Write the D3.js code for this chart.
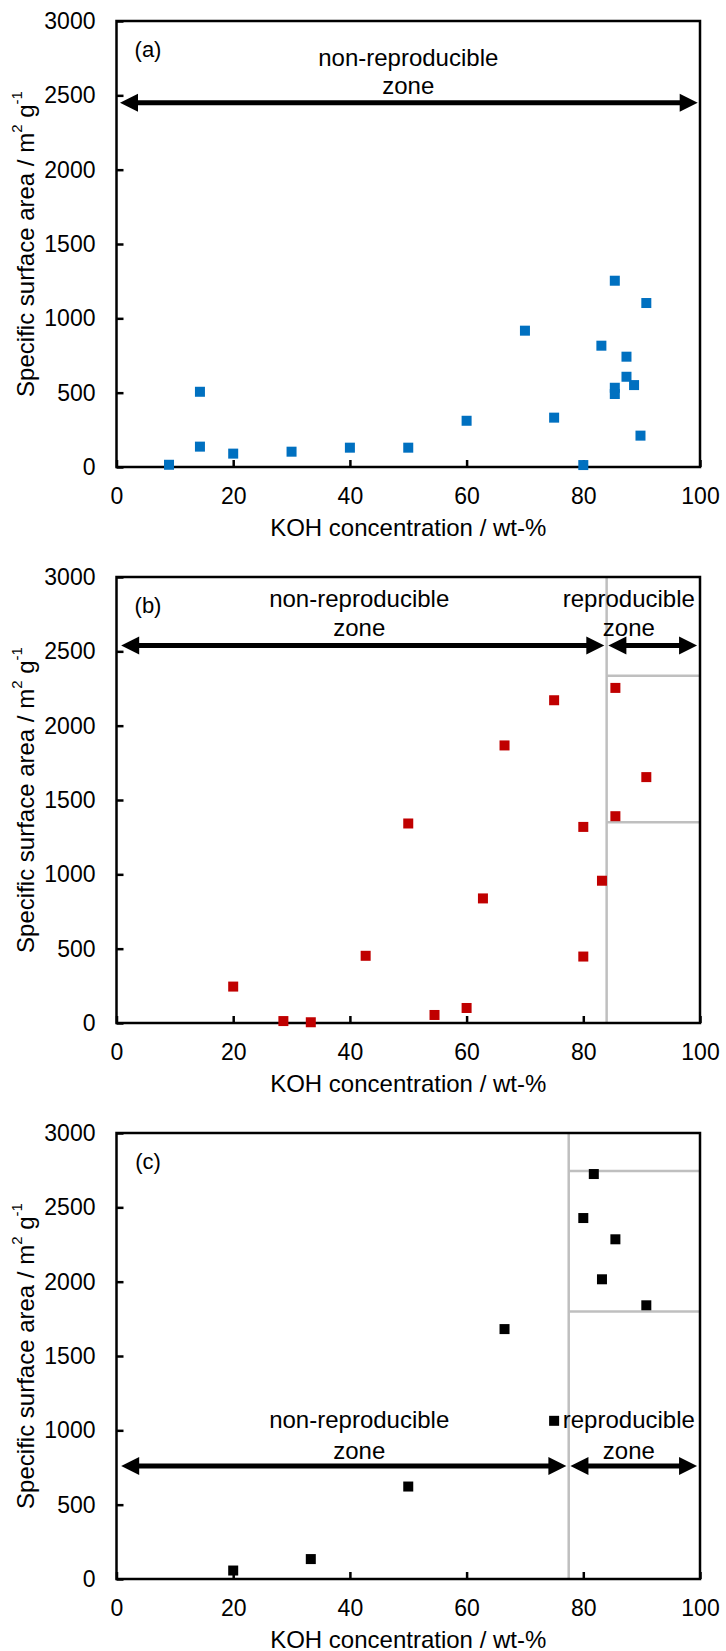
<!DOCTYPE html>
<html>
<head>
<meta charset="utf-8">
<script src="https://cdn.jsdelivr.net/npm/d3@7"></script>
<style>
body { margin: 0; background: #fff; }
text { font-family: "Liberation Sans", Arial, sans-serif; fill: #000; }
</style>
</head>
<body>
<svg class="chart"></svg>
<script>
var xTicks = [0, 20, 40, 60, 80, 100];
var yTicks = [0, 500, 1000, 1500, 2000, 2500, 3000];

// (a) all samples, blue
var kohA = [9, 14.3, 14.3, 20, 30, 40, 50, 60, 70, 75, 80, 83.1, 85.4, 87.4, 87.4, 85.4, 85.4, 88.7, 89.8, 90.8];
var ssaA = [15, 506, 137, 90, 103, 130, 130, 311, 917, 332, 13, 816, 1253, 742, 607, 533, 491, 551, 211, 1103];

// (b) red
var kohB = [20, 28.6, 33.3, 42.7, 50, 54.5, 60, 62.8, 66.5, 75, 80, 80, 83.2, 85.5, 85.5, 90.8];
var ssaB = [245, 13, 5, 452, 1342, 54, 101, 838, 1867, 2171, 1319, 447, 957, 2254, 1391, 1654];

// (c) black
var kohC = [20, 33.3, 50, 66.5, 75, 80, 81.8, 83.2, 85.5, 90.8];
var ssaC = [57, 134, 622, 1681, 1064, 2428, 2724, 2016, 2285, 1841];

// zone limits: [boundary KOH, upper SSA, lower SSA]
var zoneB = [84, 2335, 1350];
var zoneC = [77.5, 2745, 1800];

var width = 726;
var height = 1651;
var margin = {left: 116.5, right: 26};
var plotW = width - margin.left - margin.right;
var plotH = 446;

var svg = d3.select(".chart")
    .attr("width", width)
    .attr("height", height);

svg.append("rect").attr("width", width).attr("height", height).attr("fill", "#fff");

var panels = [
    {top: 21, label: "(a)", kohs: kohA, ssas: ssaA, color: "#0070C0", zone: null,
     arrowY: 2450, textX: 50, textY: [2756, 2563]},
    {top: 577, label: "(b)", kohs: kohB, ssas: ssaB, color: "#C00000", zone: zoneB,
     arrowY: 2540, textX: 41.6, textY: [2856, 2659], reproX: 87.8},
    {top: 1133, label: "(c)", kohs: kohC, ssas: ssaC, color: "#000000", zone: zoneC,
     arrowY: 760, textX: 41.6, textY: [1071, 866], reproX: 87.8}
];

var xScale = d3.scaleLinear().domain([0, 100]).range([0, plotW]);
var yScale = d3.scaleLinear().domain([0, 3000]).range([plotH, 0]);

function arrow(g, x1, x2, yv){
    var p1 = xScale(x1), p2 = xScale(x2), py = yScale(yv);
    g.append("line")
        .attr("x1", p1 + 10).attr("x2", p2 - 10)
        .attr("y1", py).attr("y2", py)
        .attr("stroke", "#000")
        .attr("stroke-width", 5);
    g.append("path")
        .attr("d", "M" + p1 + "," + py + "l18,-9l0,18z")
        .attr("fill", "#000");
    g.append("path")
        .attr("d", "M" + p2 + "," + py + "l-18,-9l0,18z")
        .attr("fill", "#000");
}

function zoneText(g, xv, yv, lines){
    g.append("text")
        .attr("x", xScale(xv))
        .attr("y", yScale(yv[0]))
        .attr("text-anchor", "middle")
        .attr("dominant-baseline", "central")
        .style("font-size", "24px")
        .text(lines[0]);
    g.append("text")
        .attr("x", xScale(xv))
        .attr("y", yScale(yv[1]))
        .attr("text-anchor", "middle")
        .attr("dominant-baseline", "central")
        .style("font-size", "24px")
        .text(lines[1]);
}

panels.forEach(function(p){
    var chart = svg.append("g")
        .attr("transform", "translate(" + margin.left + "," + p.top + ")");

    if(p.zone){
        var z = p.zone;
        chart.append("line")
            .attr("x1", xScale(z[0])).attr("x2", xScale(z[0]))
            .attr("y1", yScale(0)).attr("y2", yScale(3000))
            .attr("stroke", "#BFBFBF").attr("stroke-width", 2.5);
        [z[1], z[2]].forEach(function(v){
            chart.append("line")
                .attr("x1", xScale(z[0])).attr("x2", xScale(100))
                .attr("y1", yScale(v)).attr("y2", yScale(v))
                .attr("stroke", "#BFBFBF").attr("stroke-width", 2.5);
        });
    }

    var xAxis = d3.axisBottom(xScale).tickValues(xTicks).tickFormat(d3.format("d")).tickSize(-7).tickPadding(21);
    var yAxis = d3.axisLeft(yScale).tickValues(yTicks).tickFormat(d3.format("d")).tickSize(-7).tickPadding(21);

    chart.append("g")
        .attr("class", "xAxis")
        .attr("transform", "translate(0," + plotH + ")")
        .call(xAxis);
    chart.append("g")
        .attr("class", "y axis")
        .call(yAxis);

    chart.selectAll(".domain").remove();
    chart.selectAll(".tick line").attr("stroke", "#000").attr("stroke-width", 2.5);
    chart.selectAll(".tick text")
        .style("font-size", "23px")
        .style("font-family", "'Liberation Sans', Arial, sans-serif");

    chart.append("rect")
        .attr("width", plotW)
        .attr("height", plotH)
        .attr("fill", "none")
        .attr("stroke", "#000")
        .attr("stroke-width", 2.5);

    chart.selectAll(".pt")
        .data(p.kohs)
        .enter()
        .append("rect")
        .attr("class", "pt")
        .attr("x", function(d){ return xScale(d) - 5; })
        .attr("y", function(d, i){ return yScale(p.ssas[i]) - 5; })
        .attr("width", 10)
        .attr("height", 10)
        .attr("fill", p.color);

    chart.append("text")
        .attr("x", xScale(5.4))
        .attr("y", yScale(2805))
        .attr("text-anchor", "middle")
        .attr("dominant-baseline", "central")
        .style("font-size", "22px")
        .text(p.label);

    zoneText(chart, p.textX, p.textY, ["non-reproducible", "zone"]);

    if(p.zone){
        zoneText(chart, p.reproX, p.textY, ["reproducible", "zone"]);
        arrow(chart, 0.8, p.zone[0] - 0.4, p.arrowY);
        arrow(chart, p.zone[0] + 0.3, 99.5, p.arrowY);
    } else {
        arrow(chart, 0.6, 99.6, p.arrowY);
    }

    chart.append("text")
        .attr("x", plotW / 2)
        .attr("y", plotH + 60)
        .attr("text-anchor", "middle")
        .attr("dominant-baseline", "central")
        .style("font-size", "24px")
        .text("KOH concentration / wt-%");

    var yt = chart.append("text")
        .attr("transform", "translate(" + (25 - margin.left) + "," + (plotH / 2) + ") rotate(-90)")
        .attr("text-anchor", "middle")
        .attr("dominant-baseline", "central")
        .style("font-size", "24px");
    yt.append("tspan").text("Specific surface area / m");
    yt.append("tspan").attr("baseline-shift", "super").style("font-size", "15px").text("2");
    yt.append("tspan").text(" g");
    yt.append("tspan").attr("baseline-shift", "super").style("font-size", "15px").text("-1");
});
</script>
</body>
</html>
